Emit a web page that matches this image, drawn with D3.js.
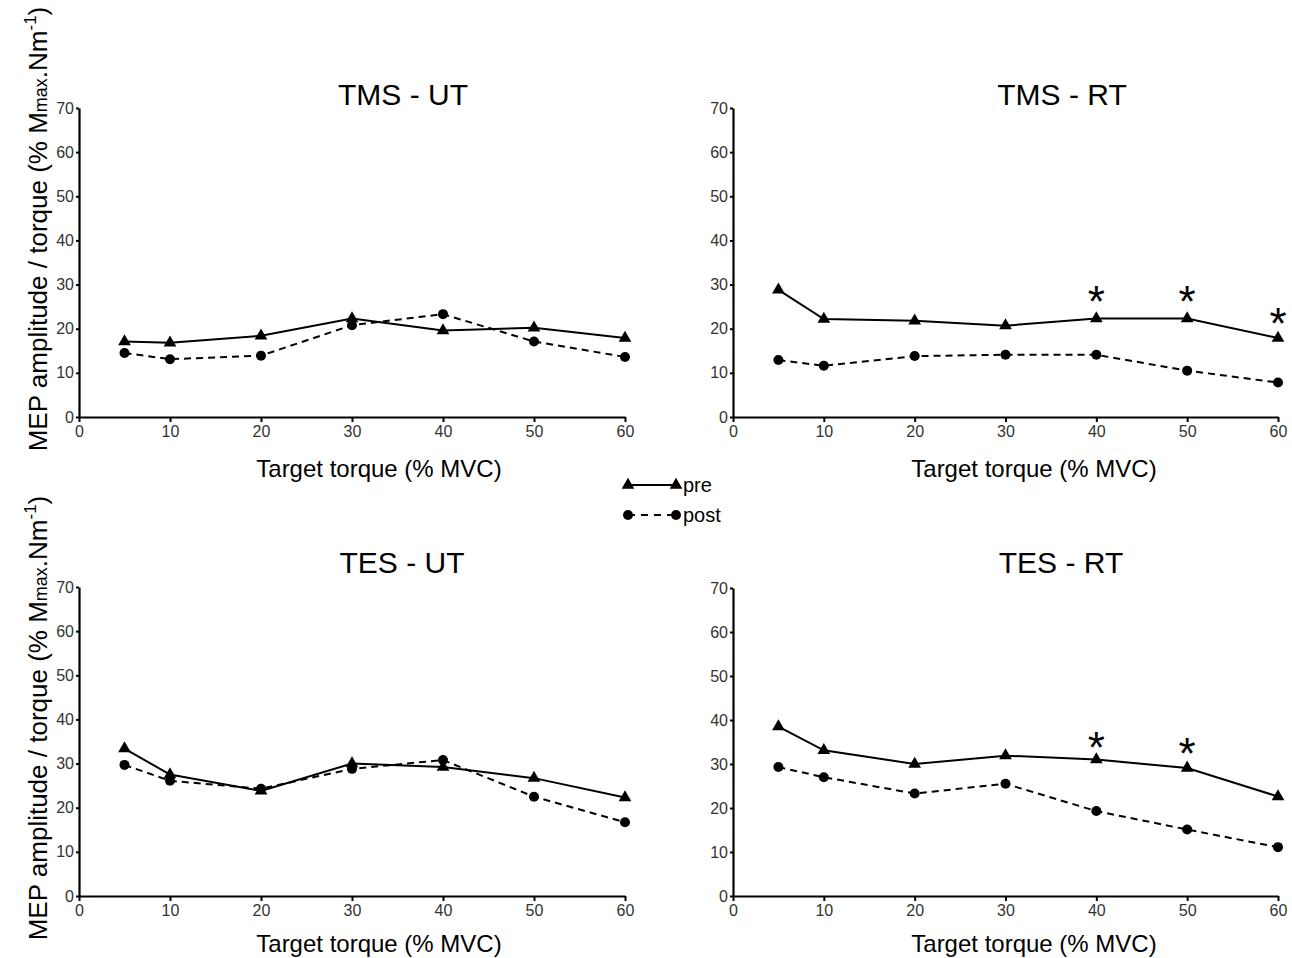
<!DOCTYPE html>
<html>
<head>
<meta charset="utf-8">
<script src="https://cdn.jsdelivr.net/npm/d3@7"></script>
<style>
  body { margin: 0; background: #fff; }
  svg { font-family: "Liberation Sans", Arial, sans-serif; }
</style>
</head>
<body>
<div id="chart"></div>
<script>
// target torque (% MVC)
const xVals = [5, 10, 20, 30, 40, 50, 60];

// MEP amplitude / torque values
const tmsUtPre  = [17.1, 16.8, 18.4, 22.3, 19.6, 20.2, 17.9];
const tmsUtPost = [14.5, 13.1, 13.9, 20.8, 23.3, 17.1, 13.6];
const tmsRtPre  = [28.8, 22.2, 21.8, 20.7, 22.3, 22.3, 17.9];
const tmsRtPost = [12.9, 11.6, 13.8, 14.1, 14.1, 10.5, 7.8];
const tesUtPre  = [33.4, 27.5, 23.8, 30.0, 29.2, 26.7, 22.3];
const tesUtPost = [29.7, 26.1, 24.3, 28.8, 30.8, 22.5, 16.7];
const tesRtPre  = [38.5, 33.1, 30.0, 31.9, 31.0, 29.1, 22.6];
const tesRtPost = [29.3, 27.0, 23.3, 25.5, 19.3, 15.1, 11.1];

// significance stars (x, height in data units)
const tmsRtStarX = [40, 50, 60];
const tmsRtStarY = [28.4, 28.4, 23.3];
const tesRtStarX = [40, 50];
const tesRtStarY = [36.0, 34.6];

const xTicks = [0, 10, 20, 30, 40, 50, 60];
const yTicks = [0, 10, 20, 30, 40, 50, 60, 70];
const titles = ["TMS - UT", "TMS - RT", "TES - UT", "TES - RT"];
const seriesNames = ["pre", "post"];

const width = 1292, height = 958;

let svg = d3.select("#chart")
    .append("svg")
    .attr("width", width)
    .attr("height", height);

// panel boxes: x0, x1, yTop, yBottom
const panels = [
    { title: titles[0], box: [79, 625, 108, 417], pre: tmsUtPre, post: tmsUtPost, stars: [], titleX: 403, titleY: 105, labX: 379, labY: 477 },
    { title: titles[1], box: [733, 1278, 108, 417], pre: tmsRtPre, post: tmsRtPost,
      stars: tmsRtStarX.map((x, i) => ({ x: x, y: tmsRtStarY[i] })), titleX: 1062, titleY: 105, labX: 1034, labY: 477 },
    { title: titles[2], box: [79, 625, 587, 896], pre: tesUtPre, post: tesUtPost, stars: [], titleX: 402, titleY: 573, labX: 379, labY: 952 },
    { title: titles[3], box: [733, 1278, 588, 896], pre: tesRtPre, post: tesRtPost,
      stars: tesRtStarX.map((x, i) => ({ x: x, y: tesRtStarY[i] })), titleX: 1061, titleY: 573, labX: 1034, labY: 952 }
];

function drawPanel(p) {
    let x = d3.scaleLinear().domain([0, 60]).range([p.box[0], p.box[1]]);
    let y = d3.scaleLinear().domain([0, 70]).range([p.box[3], p.box[2]]);

    // axes
    let gx = svg.append("g")
        .attr("transform", `translate(0, ${p.box[3]})`)
        .call(d3.axisBottom(x).tickValues(xTicks).tickSize(5).tickSizeOuter(0).tickPadding(4));
    let gy = svg.append("g")
        .attr("transform", `translate(${p.box[0]}, 0)`)
        .call(d3.axisLeft(y).tickValues(yTicks).tickSize(3).tickSizeOuter(0).tickPadding(2));

    [gx, gy].forEach(g => {
        g.select(".domain").attr("stroke", "#000").attr("stroke-width", 2.2);
        g.selectAll(".tick line").attr("stroke", "#000").attr("stroke-width", 2);
        g.selectAll(".tick text")
            .attr("fill", "#333")
            .style("font-size", "16px")
            .style("font-family", "'Liberation Sans Narrow', 'Liberation Sans', Arial, sans-serif");
    });

    // lines
    let line = d3.line().x((d, i) => x(xVals[i])).y(d => y(d));

    svg.append("path")
        .datum(p.post)
        .attr("d", line)
        .attr("fill", "none")
        .attr("stroke", "#000")
        .attr("stroke-width", 2)
        .attr("stroke-dasharray", "7,5");

    svg.append("path")
        .datum(p.pre)
        .attr("d", line)
        .attr("fill", "none")
        .attr("stroke", "#000")
        .attr("stroke-width", 2);

    // markers
    svg.selectAll(null)
        .data(p.post)
        .enter()
        .append("circle")
        .attr("cx", (d, i) => x(xVals[i]))
        .attr("cy", d => y(d))
        .attr("r", 5)
        .attr("fill", "#000");

    let tri = d3.symbol().type(d3.symbolTriangle).size(70);
    svg.selectAll(null)
        .data(p.pre)
        .enter()
        .append("path")
        .attr("d", tri)
        .attr("transform", (d, i) => `translate(${x(xVals[i])}, ${y(d)})`)
        .attr("fill", "#000");

    // stars
    svg.selectAll(null)
        .data(p.stars)
        .enter()
        .append("text")
        .attr("x", d => x(d.x))
        .attr("y", d => y(d.y) + 25)
        .attr("text-anchor", "middle")
        .style("font-size", "44px")
        .text("*");

    // title and x label
    svg.append("text")
        .attr("x", p.titleX)
        .attr("y", p.titleY)
        .attr("text-anchor", "middle")
        .style("font-size", "30px")
        .text(p.title);

    svg.append("text")
        .attr("x", p.labX)
        .attr("y", p.labY)
        .attr("text-anchor", "middle")
        .style("font-size", "24px")
        .text("Target torque (% MVC)");
}

panels.forEach(drawPanel);

// y axis labels
[229, 718].forEach(cy => {
    let t = svg.append("text")
        .attr("transform", `translate(47, ${cy}) rotate(-90)`)
        .attr("text-anchor", "middle")
        .style("font-size", "26px");
    t.append("tspan").text("MEP amplitude / torque (% M");
    t.append("tspan").style("font-size", "18px").text("max");
    t.append("tspan").text(".Nm");
    t.append("tspan").style("font-size", "17px").attr("dy", -11).text("-1");
    t.append("tspan").attr("dy", 11).text(")");
});

// legend
let legend = svg.append("g");
let legendRows = [
    { name: seriesNames[0], y: 485, dash: null },
    { name: seriesNames[1], y: 515, dash: "7,6" }
];
legendRows.forEach((r, i) => {
    legend.append("line")
        .attr("x1", 628).attr("x2", 676)
        .attr("y1", r.y).attr("y2", r.y)
        .attr("stroke", "#000")
        .attr("stroke-width", 2)
        .attr("stroke-dasharray", r.dash);
    [628, 676].forEach(mx => {
        if (i === 0) {
            legend.append("path")
                .attr("d", d3.symbol().type(d3.symbolTriangle).size(70))
                .attr("transform", `translate(${mx}, ${r.y})`);
        } else {
            legend.append("circle")
                .attr("cx", mx).attr("cy", r.y).attr("r", 5);
        }
    });
    legend.append("text")
        .attr("x", 683)
        .attr("y", r.y + 7)
        .style("font-size", "20px")
        .text(r.name);
});
</script>
</body>
</html>
